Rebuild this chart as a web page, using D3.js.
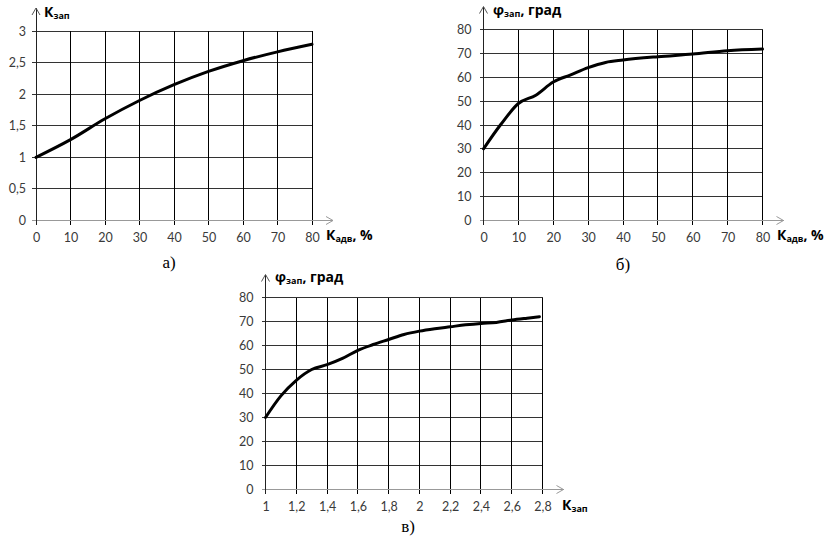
<!DOCTYPE html>
<html><head><meta charset="utf-8">
<script src="https://cdn.jsdelivr.net/npm/d3@7"></script>
<style>
body{margin:0;background:#fff;}
svg{display:block;}
.tick text{font-family:Lato,"Liberation Sans",sans-serif;font-size:12.5px;fill:#3a3a3a;}
</style></head>
<body><svg id="c" width="828" height="537"></svg>
<script>
// Chart а) K_зап vs K_адв
const kadvA = [0,10,20,30,40,50,60,70,80];
const kzapA = [1.0,1.28,1.61,1.9,2.15,2.36,2.53,2.67,2.79];
const yTicksA = [0,0.5,1,1.5,2,2.5,3];
// Chart б) φ_зап vs K_адв
const kadvB = [0,5,10,15,20,25,30,35,40,50,60,70,80];
const phiB  = [30,40.3,49,52.5,58,61,64,66.2,67.2,68.6,69.7,71.1,71.8];
const xTicksAB = [0,10,20,30,40,50,60,70,80];
const yTicksPhi = [0,10,20,30,40,50,60,70,80];
// Chart в) φ_зап vs K_зап
const kzapC = [1.0,1.1,1.2,1.3,1.4,1.5,1.6,1.7,1.8,1.9,2.0,2.1,2.2,2.3,2.4,2.5,2.6,2.7,2.78];
const phiC  = [30,39,45.5,50,52,54.6,58,60.4,62.5,64.6,66,67,67.8,68.6,69.2,69.6,70.6,71.4,72];
const xTicksC = [1,1.2,1.4,1.6,1.8,2,2.2,2.4,2.6,2.8];

const svg = d3.select("#c");
const fmt = d => String(d).replace(".", ",");

function panel(o){
  const g = svg.append("g");
  const x = d3.scaleLinear().domain(o.xd).range([o.x0,o.x1]);
  const y = d3.scaleLinear().domain(o.yd).range([o.y0,o.y1]);
  // horizontal grid
  g.selectAll(".hg").data(o.yt.filter(v=>v!==o.yd[0])).join("line")
    .attr("x1",o.x0-4).attr("x2",o.x1).attr("y1",d=>y(d)).attr("y2",d=>y(d))
    .attr("stroke","#333").attr("stroke-width",1).attr("shape-rendering","crispEdges");
  // vertical grid
  g.selectAll(".vg").data(o.xt.filter(v=>v!==o.xd[0])).join("line")
    .attr("x1",d=>x(d)).attr("x2",d=>x(d)).attr("y1",o.y1).attr("y2",o.y0+4)
    .attr("stroke","#000").attr("stroke-width",1).attr("shape-rendering","crispEdges");
  // axes with arrows
  const ax = o.x1+21, ay = o.y1-23;
  g.append("line").attr("x1",o.x0-4).attr("x2",ax).attr("y1",o.y0).attr("y2",o.y0)
    .attr("stroke","#999").attr("shape-rendering","crispEdges");
  g.append("path").attr("d",`M${ax-7},${o.y0-4}L${ax},${o.y0}L${ax-7},${o.y0+4}`)
    .attr("fill","none").attr("stroke","#999");
  g.append("line").attr("x1",o.x0).attr("x2",o.x0).attr("y1",o.y0+4).attr("y2",ay)
    .attr("stroke","#222").attr("shape-rendering","crispEdges");
  g.append("path").attr("d",`M${o.x0-4},${ay+7}L${o.x0},${ay}L${o.x0+4},${ay+7}`)
    .attr("fill","none").attr("stroke","#555");
  // tick labels via axes
  const ya = g.append("g").attr("transform",`translate(${o.x0},0)`)
    .call(d3.axisLeft(y).tickValues(o.yt).tickFormat(fmt).tickSize(0).tickPadding(o.ypad));
  ya.select(".domain").remove();
  const xa = g.append("g").attr("transform",`translate(0,${o.y0})`)
    .call(d3.axisBottom(x).tickValues(o.xt).tickFormat(fmt).tickSize(0).tickPadding(13));
  xa.select(".domain").remove();
  // curve
  g.append("path").datum(o.xs.map((v,i)=>[v,o.ys[i]]))
    .attr("d",d3.line().x(d=>x(d[0])).y(d=>y(d[1])).curve(d3.curveMonotoneX))
    .attr("fill","none").attr("stroke","#000").attr("stroke-width",3).attr("stroke-linecap","round");
  // axis titles
  function title(px,py,main,sub,rest){
    const t = g.append("text").attr("x",px).attr("y",py)
      .attr("font-family","'Open Sans','Liberation Sans',sans-serif").attr("font-weight","bold")
      .attr("font-size","14px").attr("fill","#000");
    t.append("tspan").text(main);
    t.append("tspan").attr("font-size","9px").attr("dy","2").text(sub);
    if(rest) t.append("tspan").attr("dy","-2").text(rest);
  }
  title(o.yl[0],o.yl[1],o.ylt[0],o.ylt[1],o.ylt[2]);
  title(o.xl[0],o.xl[1],o.xlt[0],o.xlt[1],o.xlt[2]);
  svg.append("text").attr("x",o.cap[0]).attr("y",o.cap[1])
    .attr("font-family","'Liberation Serif','Times New Roman',serif").attr("font-size","17px")
    .attr("fill","#000").attr("text-anchor","middle").text(o.cap[2]);
}

panel({xd:[0,80],yd:[0,3],x0:36,x1:312,y0:220.5,y1:31,xt:xTicksAB,yt:yTicksA,xs:kadvA,ys:kzapA,ypad:10,
  yl:[44,17],ylt:["К","зап",""],xl:[326,240],xlt:["К","адв",", %"],cap:[169,268,"а)"]});
panel({xd:[0,80],yd:[0,80],x0:483.5,x1:762.5,y0:220.5,y1:29.5,xt:xTicksAB,yt:yTicksPhi,xs:kadvB,ys:phiB,ypad:12,
  yl:[493,15],ylt:["φ","зап",", град"],xl:[777,240],xlt:["К","адв",", %"],cap:[623,270,"б)"]});
panel({xd:[1,2.8],yd:[0,80],x0:265.5,x1:542.5,y0:489.5,y1:297.5,xt:xTicksC,yt:yTicksPhi,xs:kzapC,ys:phiC,ypad:12,
  yl:[275,282],ylt:["φ","зап",", град"],xl:[562,510],xlt:["К","зап",""],cap:[408,532,"в)"]});
</script></body></html>
